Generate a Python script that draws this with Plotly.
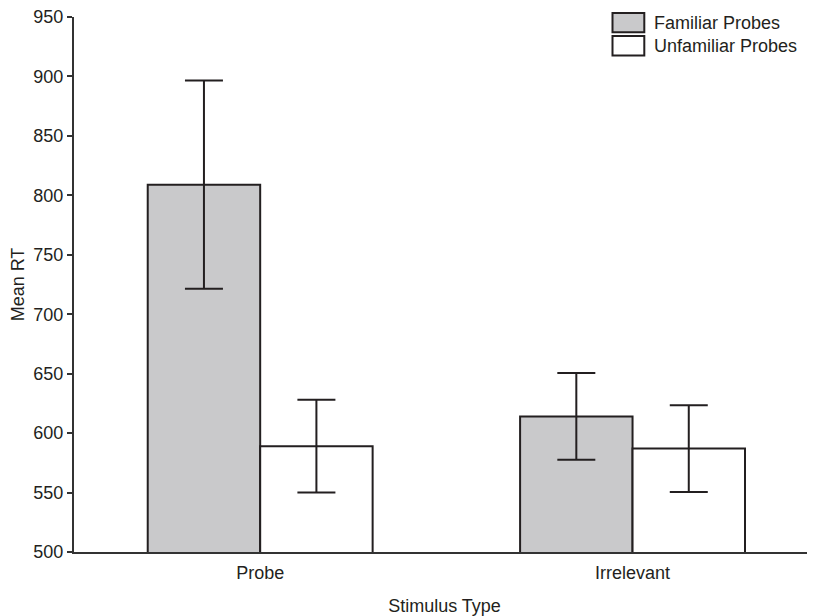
import plotly.graph_objects as go

categories = ["Probe", "Irrelevant"]
series_names = ["Familiar Probes", "Unfamiliar Probes"]
familiar_means = [809, 614]
familiar_err = [87.5, 36.5]
unfamiliar_means = [589, 587]
unfamiliar_err = [39, 36.5]
y_ticks = [500, 550, 600, 650, 700, 750, 800, 850, 900, 950]

INK = "#231f20"
GRAY = "#c9c9cb"
FONT = "Liberation Sans, Arial, sans-serif"

fig = go.Figure()
fig.add_trace(go.Bar(
    x=categories, y=familiar_means, name=series_names[0],
    marker=dict(color=GRAY, line=dict(color=INK, width=2)),
    error_y=dict(type="data", array=familiar_err, color=INK, thickness=2, width=19),
))
fig.add_trace(go.Bar(
    x=categories, y=unfamiliar_means, name=series_names[1],
    marker=dict(color="white", line=dict(color=INK, width=2)),
    error_y=dict(type="data", array=unfamiliar_err, color=INK, thickness=2, width=19),
))

OFF = 8  # page body margin offset
W, H = 815, 616
# plot area in screen pixels
SX0, SX1, SY0, SY1 = 74, 815, 17, 552
L = SX0 - OFF
T = SY0 - OFF
R = W - (SX1 - OFF)
B = H - (SY1 - OFF)
pw, ph = SX1 - SX0, SY1 - SY0

def px_x(x):
    return (x - SX0) / pw

def px_y(y):
    return (SY1 - y) / ph

# manual legend
legend_rows = [(13, 32.3, GRAY), (36, 55.5, "white")]
for (top, bot, col), name in zip(legend_rows, series_names):
    fig.add_shape(type="rect", xref="paper", yref="paper",
                  x0=px_x(612.5), x1=px_x(644.3), y0=px_y(bot), y1=px_y(top),
                  fillcolor=col, line=dict(color=INK, width=2), layer="above")
    fig.add_annotation(xref="paper", yref="paper", x=px_x(652), y=px_y((top + bot) / 2),
                       text=name, showarrow=False, xanchor="left", yanchor="middle",
                       font=dict(family=FONT, size=18, color=INK))

fig.update_layout(
    width=W, height=H,
    margin=dict(l=L, r=R, t=T, b=B, autoexpand=False),
    paper_bgcolor="white", plot_bgcolor="white",
    barmode="group", bargap=0.396, bargroupgap=0,
    showlegend=False,
    font=dict(family=FONT, size=18, color=INK),
    xaxis=dict(
        range=[-0.5, 1.49], showline=True, linecolor="#333333", linewidth=2,
        ticks="", showgrid=False, zeroline=False, automargin=False,
        tickfont=dict(size=18, color=INK), ticklabelstandoff=3,
        title=dict(text="Stimulus Type", font=dict(size=18, color=INK), standoff=18),
    ),
    yaxis=dict(
        range=[500, 950], tickvals=y_ticks, showline=True, linecolor="#333333", linewidth=2,
        ticks="outside", ticklen=5, tickwidth=2, tickcolor="#333333",
        showgrid=False, zeroline=False, automargin=False,
        ticklabeloverflow="allow",
        tickfont=dict(size=18, color=INK),
        title=dict(text="Mean RT", font=dict(size=18, color=INK), standoff=11),
    ),
)

fig.write_html("out.html")
